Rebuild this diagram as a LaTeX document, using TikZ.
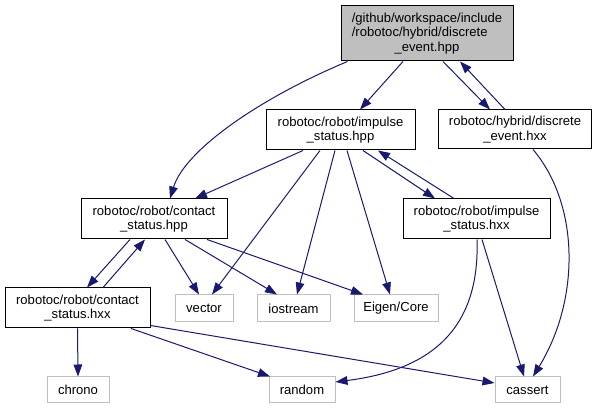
\documentclass[tikz,border=0pt]{standalone}
\usepackage{fontspec}
\setmainfont{Liberation Sans}
\usepackage{calc}
\usetikzlibrary{arrows.meta,calc}
\definecolor{edgeblue}{HTML}{191970}
\definecolor{boxgray}{HTML}{BFBFBF}

\begin{document}
\begin{tikzpicture}[x=0.75pt,y=-0.75pt,
      file/.style={draw=black, line width=0.75pt, align=center, inner sep=0pt,
                   minimum height=30pt, minimum width=#1,
                   font=\fontsize{9.8}{11}\selectfont},
      sys/.style={file=#1, draw=boxgray, minimum height=20.25pt},
      arr/.style={-{Triangle[length=9pt,width=6.5pt]}, line width=0.75pt, edgeblue}
    ]
      \useasboundingbox (0,0) rectangle (597,409);

      \node[file=129pt, fill=boxgray, minimum height=41.25pt] (evt) at (427,33.5)
        {/github/workspace/include\\
         \makebox[\widthof{/github/workspace/include}][l]{/robotoc/hybrid/discrete}\\
         \_event.hpp};
      \node[file=111.75pt] (imphpp) at (340.5,130) {robotoc/robot/impulse\\\_status.hpp};
      \node[file=114.75pt, minimum height=29.25pt] (evthxx) at (515,129.5) {robotoc/hybrid/discrete\\\_event.hxx};
      \node[file=109.5pt] (conhpp) at (154,219) {robotoc/robot/contact\\\_status.hpp};
      \node[file=110.25pt] (imphxx) at (476.5,219) {robotoc/robot/impulse\\\_status.hxx};
      \node[file=108.75pt] (conhxx) at (77.5,308) {robotoc/robot/contact\\\_status.hxx};

      \node[sys=43.5pt] (vec) at (204,308.5) {vector};
      \node[sys=54.75pt] (ios) at (293.5,308.5) {iostream};
      \node[sys=63pt] (eig) at (396,308.5) {Eigen/Core};
      \node[sys=46.5pt, minimum height=19.5pt] (chr) at (78,390) {chrono};
      \node[sys=49.5pt, minimum height=19.5pt] (rnd) at (302,390) {random};
      \node[sys=48.75pt, minimum height=19.5pt] (cas) at (527.5,390) {cassert};

      % from discrete_event.hpp
      \draw[arr] ($(evt.south west)+(7,0)$) .. controls (260,98) and (185,150) .. ($(conhpp.north)+(16,0)$);
      \draw[arr] ($(evt.south)+(-24,0)$) -- ($(imphpp.north)+(19.5,0)$);
      \draw[arr] ($(evt.south)+(16,0)$) -- ($(evthxx.north)+(-25,0)$);
      \draw[arr] ($(evthxx.north)+(-10,0)$) -- ($(evt.south)+(33,0)$);
      \draw[arr] ($(evthxx.south)+(18,0)$) .. controls (580,205) and (580,300) .. ($(cas.north)+(5.5,0)$);

      % from impulse_status.hpp
      \draw[arr] ($(imphpp.south)+(-37.5,0)$) -- ($(conhpp.north)+(41,0)$);
      \draw[arr] ($(imphpp.south)+(-20.5,0)$) -- ($(vec.north)+(8,0)$);
      \draw[arr] ($(imphpp.south)+(-5.5,0)$) -- ($(ios.north)+(3.5,0)$);
      \draw[arr] ($(imphpp.south)+(6.5,0)$) -- ($(eig.north)+(-6,0)$);
      \draw[arr] ($(imphpp.south)+(22.5,0)$) -- ($(imphxx.north)+(-41.5,0)$);
      \draw[arr] ($(imphxx.north)+(-22.5,0)$) -- ($(imphpp.south)+(37.5,0)$);
      \draw[arr] ($(imphxx.south)+(0.5,0)$) .. controls (480,330) and (430,370) .. ($(rnd.east)+(0,-8)$);
      \draw[arr] ($(imphxx.south)+(5.5,0)$) -- ($(cas.north)+(-3.5,0)$);

      % from contact_status.hpp
      \draw[arr] ($(conhpp.south)+(-24,0)$) -- ($(conhxx.north)+(9.5,0)$);
      \draw[arr] ($(conhxx.north)+(25.5,0)$) -- ($(conhpp.south)+(-9,0)$);
      \draw[arr] ($(conhpp.south)+(11,0)$) -- ($(vec.north)+(-5,0)$);
      \draw[arr] ($(conhpp.south)+(31,0)$) -- ($(ios.north)+(-16.5,0)$);
      \draw[arr] ($(conhpp.south)+(53,0)$) -- ($(eig.north)+(-33,0)$);

      % from contact_status.hxx
      \draw[arr] (conhxx.south) -- (chr.north);
      \draw[arr] ($(conhxx.south)+(53.5,0)$) -- ($(rnd.north)+(-32,0)$);
      \draw[arr] ($(conhxx.south east)+(0,-3)$) -- ($(cas.west)+(0,-7)$);
    \end{tikzpicture}
\end{document}
